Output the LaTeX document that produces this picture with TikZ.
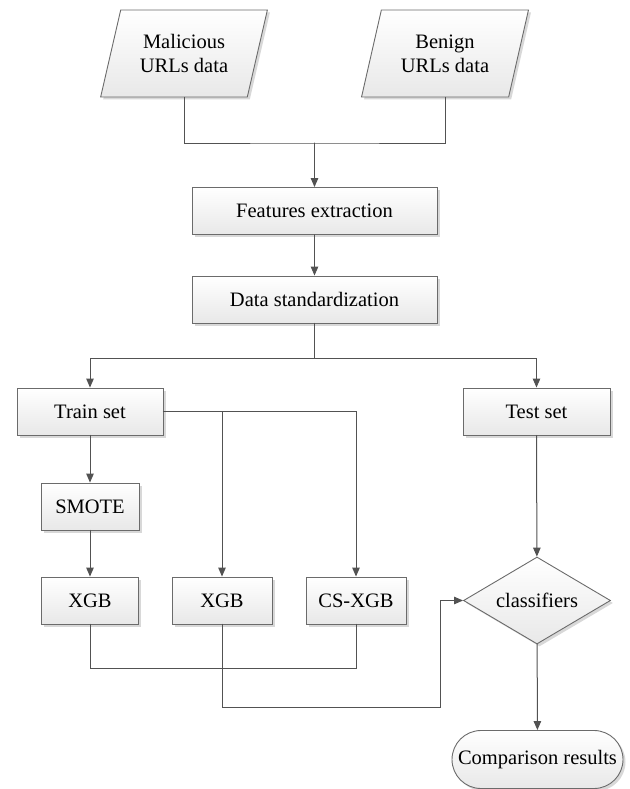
\documentclass[tikz,border=0pt]{standalone}
\usepackage{fontspec}
\setmainfont{Liberation Serif}
\usetikzlibrary{arrows.meta,shapes.geometric,shapes.misc,shadows}

\begin{document}
\begin{tikzpicture}[x=1pt,y=-1pt,>={Triangle[length=9pt,width=7.5pt]},
  font=\fontsize{20.5}{24}\selectfont,line cap=round,
  flow/.style={draw=black!58,line width=0.9pt,top color=white,bottom color=black!9,
    drop shadow={shadow xshift=2.5pt,shadow yshift=-2.5pt,fill=black!30,opacity=.5},inner sep=0pt},
  proc/.style={flow,rectangle,minimum height=47pt},
  datain/.style={flow,trapezium,trapezium left angle=70,trapezium right angle=110,
    trapezium stretches=true,minimum width=167pt,minimum height=87pt,align=center},
  decide/.style={flow,diamond,aspect=1.7,minimum width=147pt,minimum height=87pt},
  term/.style={flow,rounded rectangle,minimum width=171pt,minimum height=58pt},
  link/.style={draw=black!68,line width=1pt}]
\useasboundingbox (0,0) rectangle (629,789);
\node[datain] (mal) at (184,53.5) {Malicious\\URLs data};
\node[datain] (ben) at (445,53.5) {Benign\\URLs data};
\node[proc,minimum width=245pt] (feat) at (314.5,211) {Features extraction};
\node[proc,minimum width=245pt] (std) at (314.5,299.5) {Data standardization};
\node[proc,minimum width=146pt] (train) at (90,411.5) {Train set};
\node[proc,minimum width=147pt] (test) at (536.5,411.5) {Test set};
\node[proc,minimum width=98pt] (smote) at (90,506.5) {SMOTE};
\node[proc,minimum width=97pt] (xgbA) at (90,600.5) {XGB};
\node[proc,minimum width=100pt] (xgbB) at (222,600.5) {XGB};
\node[proc,minimum width=100pt] (csxgb) at (356,600.5) {CS-XGB};
\node[decide] (cls) at (537,600.5) {classifiers};
\node[term] (cmp) at (537.5,759.5) {Comparison results};
\coordinate (merge) at (314.5,143);
\coordinate (split) at (314.5,358);
\coordinate (loop) at (440,707);
\draw[link] (mal.south) |- (merge) -| (ben.south);
\draw[link,->] (merge) -- (feat);
\draw[link,->] (feat) -- (std);
\draw[link] (std) -- (split);
\draw[link,->] (split) -| (train);
\draw[link,->] (split) -| (test);
\draw[link,->] (train.east) -| (csxgb);
\draw[link,->] (train.east -| xgbB) -- (xgbB);
\draw[link,->] (train) -- (smote);
\draw[link,->] (smote) -- (xgbA);
\draw[link,->] (test) -- (cls);
\draw[link] (xgbA.south) -- ++(0,44) -| (csxgb.south);
\draw[link,->] (xgbB.south) |- (loop) |- (cls.west);
\draw[link,->] (cls) -- (cmp);
\end{tikzpicture}
\end{document}
